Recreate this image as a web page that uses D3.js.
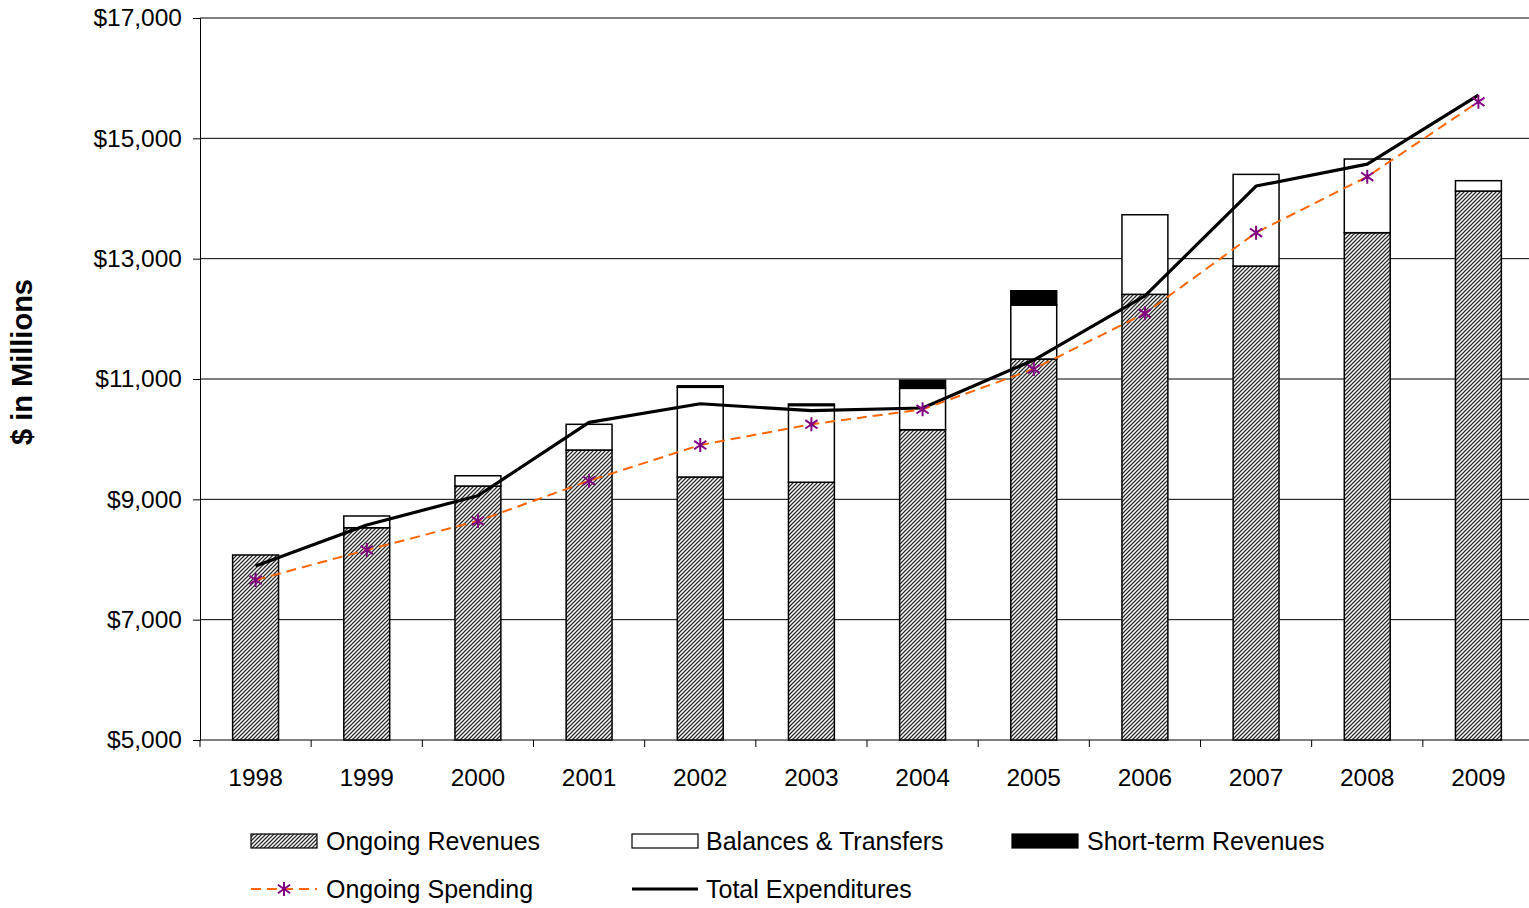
<!DOCTYPE html>
<html>
<head>
<meta charset="utf-8">
<script src="https://cdn.jsdelivr.net/npm/d3@7"></script>
<style>
  html, body { margin: 0; padding: 0; background: #fff; }
  svg { display: block; font-family: "Liberation Sans", Arial, sans-serif; }
</style>
</head>
<body>
<svg id="chart" width="1529" height="908"></svg>
<script>
// Fiscal years shown on the category axis
const years = ["1998","1999","2000","2001","2002","2003","2004","2005","2006","2007","2008","2009"];

// Stacked revenue components ($ in millions)
const ongoingRevenues   = [8075, 8528, 9221, 9820, 9371, 9284, 10157, 11332, 12407, 12877, 13432, 14124];
const balancesTransfers = [0, 195, 171, 427, 1491, 1276, 688, 897, 1323, 1524, 1224, 172];
const shortTermRevenues = [0, 0, 0, 0, 25, 25, 133, 238, 0, 0, 0, 0];

// Spending lines ($ in millions)
const ongoingSpending   = [7659, 8158, 8640, 9309, 9903, 10247, 10496, 11166, 12091, 13432, 14362, 15608];
const totalExpenditures = [7892, 8573, 9060, 10280, 10589, 10473, 10518, 11315, 12380, 14207, 14572, 15719];

// Value axis ticks
const yTicks = [5000, 7000, 9000, 11000, 13000, 15000, 17000];

const svg = d3.select("#chart");
const plotLeft = 200, plotRight = 1534, plotTop = 18, plotBottom = 740;

const x = d3.scaleBand().domain(years).range([plotLeft, plotRight])
  .paddingInner(0.587).paddingOuter(0.2935);
const y = d3.scaleLinear().domain([5000, 17000]).range([plotBottom, plotTop]);
const step = x.step();
const cx = d => x(d) + x.bandwidth() / 2;

// Diagonal hatch used for ongoing revenues
const defs = svg.append("defs");
const pat = defs.append("pattern").attr("id", "hatch")
  .attr("patternUnits", "userSpaceOnUse").attr("width", 4).attr("height", 4);
pat.append("rect").attr("width", 4).attr("height", 4).attr("fill", "#fff");
pat.append("path").attr("d", "M-1,1 l2,-2 M0,4 l4,-4 M3,5 l2,-2")
  .attr("stroke", "#2a2a2a").attr("stroke-width", 1.25);

// Horizontal gridlines
svg.append("g").selectAll("line").data(yTicks.filter(t => t > 5000)).join("line")
  .attr("x1", plotLeft).attr("x2", 1529)
  .attr("y1", d => y(d)).attr("y2", d => y(d))
  .attr("stroke", "#000").attr("stroke-width", 1);

// Value axis
const yAxis = d3.axisLeft(y).tickValues(yTicks).tickSize(7).tickPadding(11)
  .tickFormat(d => "$" + d3.format(",")(d));
const gy = svg.append("g").attr("transform", `translate(${plotLeft},0)`).call(yAxis);
gy.select(".domain").attr("stroke", "#000");
gy.selectAll(".tick line").attr("stroke", "#000");
gy.selectAll("text").attr("font-size", 24.5).attr("fill", "#000")
  .attr("font-family", "Liberation Sans, Arial, sans-serif");

// Category axis with ticks between categories
svg.append("line").attr("x1", plotLeft).attr("x2", 1529)
  .attr("y1", plotBottom).attr("y2", plotBottom).attr("stroke", "#000");
svg.append("g").selectAll("line").data(years).join("line")
  .attr("x1", d => cx(d) - step / 2).attr("x2", d => cx(d) - step / 2)
  .attr("y1", plotBottom).attr("y2", plotBottom + 7).attr("stroke", "#000");
svg.append("g").selectAll("text").data(years).join("text")
  .attr("x", d => cx(d)).attr("y", plotBottom + 46)
  .attr("text-anchor", "middle").attr("font-size", 24.5).attr("fill", "#000")
  .text(d => d);

// Stacked bars
const rows = years.map((yr, i) => ({
  year: yr,
  ongoing: ongoingRevenues[i],
  balances: balancesTransfers[i],
  short: shortTermRevenues[i]
}));
const stack = d3.stack().keys(["ongoing", "balances", "short"]).value((d, k) => d[k]);
const layers = stack(rows);
const fills = { ongoing: "url(#hatch)", balances: "#fff", short: "#000" };

// Bars start from the axis floor
layers.forEach(layer => {
  svg.append("g").selectAll("rect")
    .data(layer.filter(d => d[1] - d[0] > 0)).join("rect")
    .attr("x", d => x(d.data.year))
    .attr("width", x.bandwidth())
    .attr("y", d => y(d[1]))
    .attr("height", d => y(Math.max(d[0], 5000)) - y(d[1]))
    .attr("fill", fills[layer.key])
    .attr("stroke", "#000").attr("stroke-width", 1.5);
});

// Total expenditures line
const line = d3.line().x(d => cx(d.year)).y(d => y(d.v));
svg.append("path")
  .datum(years.map((yr, i) => ({ year: yr, v: totalExpenditures[i] })))
  .attr("d", line).attr("fill", "none")
  .attr("stroke", "#000").attr("stroke-width", 3.2).attr("stroke-linejoin", "round");

// Ongoing spending dashed line with asterisk markers
const spend = years.map((yr, i) => ({ year: yr, v: ongoingSpending[i] }));
svg.append("path").datum(spend).attr("d", line).attr("fill", "none")
  .attr("stroke", "#FF6600").attr("stroke-width", 2).attr("stroke-dasharray", "10,6");

const star = (px, py, r) =>
  `M${px},${py - r}L${px},${py + r}` +
  `M${px - r * 0.87},${py - r * 0.6}L${px + r * 0.87},${py + r * 0.6}` +
  `M${px - r * 0.87},${py + r * 0.6}L${px + r * 0.87},${py - r * 0.6}`;
svg.append("g").selectAll("path").data(spend).join("path")
  .attr("d", d => star(cx(d.year), y(d.v), 7))
  .attr("stroke", "#800080").attr("stroke-width", 2).attr("fill", "none");

// Legend
const lg = svg.append("g").attr("font-size", 25).attr("fill", "#000");
const sw = 66;
function swatchRect(x0, yc, fill) {
  lg.append("rect").attr("x", x0).attr("y", yc - 7).attr("width", sw).attr("height", 14)
    .attr("fill", fill).attr("stroke", "#000").attr("stroke-width", 1.2);
}
function label(x0, yc, t) {
  lg.append("text").attr("x", x0).attr("y", yc).attr("dy", "0.35em").text(t);
}
swatchRect(251, 841, "url(#hatch)");  label(326, 841, "Ongoing Revenues");
swatchRect(632, 841, "#fff");         label(706, 841, "Balances & Transfers");
swatchRect(1012, 841, "#000");        label(1087, 841, "Short-term Revenues");

lg.append("line").attr("x1", 251).attr("x2", 317).attr("y1", 889).attr("y2", 889)
  .attr("stroke", "#FF6600").attr("stroke-width", 2).attr("stroke-dasharray", "10,6");
lg.append("path").attr("d", star(284, 889, 7))
  .attr("stroke", "#800080").attr("stroke-width", 2).attr("fill", "none");
label(326, 889, "Ongoing Spending");
lg.append("line").attr("x1", 632).attr("x2", 698).attr("y1", 889).attr("y2", 889)
  .attr("stroke", "#000").attr("stroke-width", 3);
label(706, 889, "Total Expenditures");

// Value axis title
svg.append("text")
  .attr("transform", `translate(32,362) rotate(-90)`)
  .attr("text-anchor", "middle").attr("font-size", 29).attr("font-weight", "bold")
  .attr("fill", "#000").text("$ in Millions");
</script>
</body>
</html>
